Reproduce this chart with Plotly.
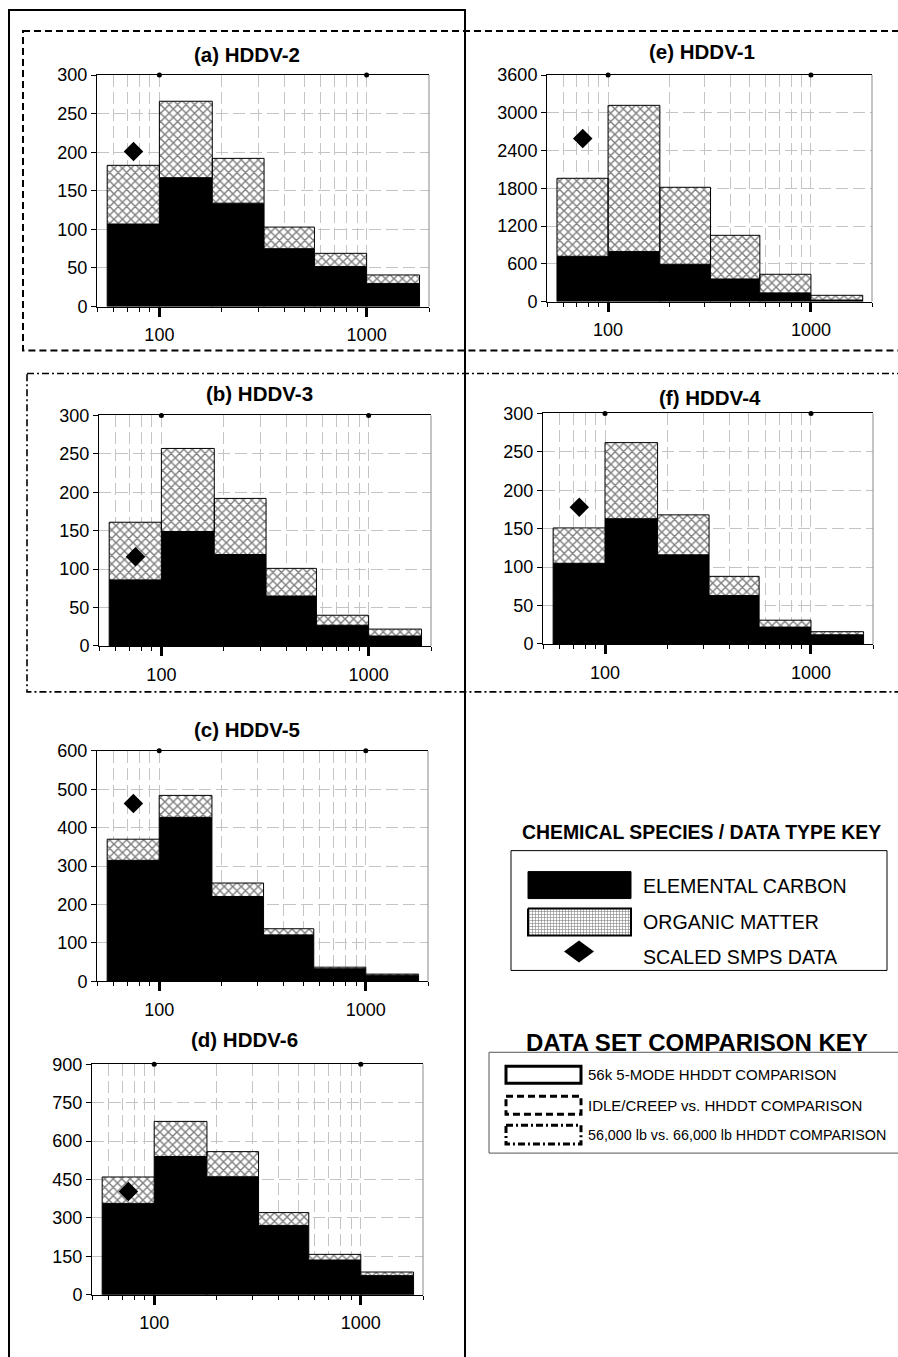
import math
import plotly.graph_objects as go

# ---------------- data ----------------
BIN_EDGES = [56, 100, 180, 320, 560, 1000, 1800]   # particle diameter (nm)
SMPS_DIAMETER = 75
X_TICKS = [100, 1000]
X_MINOR = [50, 60, 70, 80, 90, 200, 300, 400, 500, 600, 700, 800, 900, 2000]

TITLES = ["(a) HDDV-2", "(e) HDDV-1", "(b) HDDV-3", "(f) HDDV-4", "(c) HDDV-5", "(d) HDDV-6"]

EC_A = [107, 167, 134, 75, 52, 30]
OM_A = [76, 99, 58, 28, 17, 11]
EC_E = [720, 794, 593, 360, 138, 25]
OM_E = [1239, 2324, 1223, 693, 296, 75]
EC_B = [86, 149, 119, 65, 27, 13]
OM_B = [75, 108, 73, 36, 13, 9]
EC_F = [105, 163, 116, 63, 22, 12]
OM_F = [46, 99, 52, 25, 9, 4]
EC_C = [315, 427, 221, 121, 33, 16]
OM_C = [55, 57, 35, 16, 4, 3]
EC_D = [357, 540, 461, 271, 136, 75]
OM_D = [103, 137, 98, 50, 22, 14]

EC = [EC_A, EC_E, EC_B, EC_F, EC_C, EC_D]
OM = [OM_A, OM_E, OM_B, OM_F, OM_C, OM_D]
SMPS = [201, 2590, 116, 178, 463, 403]
Y_MAX = [300, 3600, 300, 300, 600, 900]
Y_STEP = [50, 600, 50, 50, 100, 150]

LEGEND1_ITEMS = ["ELEMENTAL CARBON", "ORGANIC MATTER", "SCALED SMPS DATA"]
LEGEND2_ITEMS = ["56k 5-MODE HHDDT COMPARISON", "IDLE/CREEP vs. HHDDT COMPARISON",
                 "56,000 lb vs. 66,000 lb HHDDT COMPARISON"]

# ---------------- layout geometry (pixels) ----------------
W, H = 898, 1357
PLOT_BOX = [(97, 429, 74, 306), (547, 872, 74, 301), (99, 431, 415, 646),
            (543, 873, 413, 644), (97, 428, 751, 982), (92, 423, 1065, 1296)]
TITLE_POS = [(247, 53), (702, 50), (259, 393), (710, 397), (247, 730), (245, 1040)]

FONT = "Liberation Sans, Arial, sans-serif"
GRID = "#c4c4c4"
GDASH = "12px,5px"

# the photographed page shows a small vertical offset/compression; compensate
VSCALE = 0.987
VOFF = 9.0


def px(x):
    return x / W


def py(y):
    return 1 - (y / VSCALE - VOFF) / H


fig = go.Figure()
layout = dict(width=W, height=H, margin=dict(l=0, r=0, t=0, b=0, pad=0),
              paper_bgcolor="white", plot_bgcolor="rgba(0,0,0,0)",
              showlegend=False, font=dict(family=FONT, color="black"))
shapes = []
annotations = []

for i in range(6):
    n = i + 1
    xa = "x" if n == 1 else f"x{n}"
    ya = "y" if n == 1 else f"y{n}"
    x0, x1, y0, y1 = PLOT_BOX[i]
    ec = EC[i]
    top = [e + o for e, o in zip(ec, OM[i])]

    ecx, ecy, omx, omy = [], [], [], []
    for k in range(len(ec)):
        a, b = BIN_EDGES[k], BIN_EDGES[k + 1]
        ecx += [a, a, b, b, a, None]
        ecy += [0, ec[k], ec[k], 0, 0, None]
        omx += [a, a, b, b, a, None]
        omy += [ec[k], top[k], top[k], ec[k], ec[k], None]

    fig.add_trace(go.Scatter(x=ecx, y=ecy, xaxis=xa, yaxis=ya, mode="lines",
                             fill="toself", fillcolor="black",
                             line=dict(color="black", width=1), hoverinfo="skip"))
    fig.add_trace(go.Scatter(x=omx, y=omy, xaxis=xa, yaxis=ya, mode="lines",
                             fill="toself", fillcolor="white",
                             fillpattern=dict(shape="x", size=6, solidity=0.42,
                                              fgcolor="black", bgcolor="white"),
                             line=dict(color="black", width=1), hoverinfo="skip"))
    fig.add_trace(go.Scatter(x=[SMPS_DIAMETER], y=[SMPS[i]], xaxis=xa, yaxis=ya,
                             mode="markers",
                             marker=dict(symbol="diamond", size=15, color="black"),
                             hoverinfo="skip"))
    fig.add_trace(go.Scatter(x=X_TICKS, y=[Y_MAX[i]] * 2, xaxis=xa, yaxis=ya,
                             mode="markers", cliponaxis=False,
                             marker=dict(size=5, color="black"), hoverinfo="skip"))

    layout["xaxis" if n == 1 else f"xaxis{n}"] = dict(
        type="log", range=[math.log10(50), math.log10(2000)],
        domain=[px(x0), px(x1)], anchor=ya,
        showline=True, linecolor="black", linewidth=1, mirror=True,
        ticks="outside", tickvals=X_TICKS, ticktext=[str(v) for v in X_TICKS],
        ticklen=9, tickwidth=3, tickcolor="black", ticklabelstandoff=3,
        tickfont=dict(size=18, family=FONT, color="black"),
        showgrid=True, gridcolor=GRID, gridwidth=1, griddash=GDASH,
        zeroline=False,
        minor=dict(tickvals=X_MINOR, ticks="outside", ticklen=4, tickwidth=1,
                   tickcolor="black", showgrid=True, gridcolor=GRID,
                   gridwidth=1, griddash=GDASH),
    )
    layout["yaxis" if n == 1 else f"yaxis{n}"] = dict(
        range=[0, Y_MAX[i]], domain=[py(y1), py(y0)], anchor=xa,
        tick0=0, dtick=Y_STEP[i],
        showline=True, linecolor="black", linewidth=1,
        ticks="outside", ticklen=5, tickwidth=1, tickcolor="black",
        tickfont=dict(size=18, family=FONT, color="black"),
        showgrid=True, gridcolor=GRID, gridwidth=1, griddash=GDASH,
        zeroline=False,
    )
    # gray right border of plot area
    shapes.append(dict(type="line", xref=f"{xa} domain", yref=f"{ya} domain",
                       x0=1, x1=1, y0=0, y1=1, line=dict(color="#8a8a8a", width=1)))
    annotations.append(dict(text=f"<b>{TITLES[i]}</b>", x=px(TITLE_POS[i][0]),
                            y=py(TITLE_POS[i][1]), xref="paper", yref="paper",
                            xanchor="center", yanchor="middle", showarrow=False,
                            font=dict(size=20.5, family=FONT, color="black")))

# ---------------- frames ----------------
shapes.append(dict(type="rect", xref="paper", yref="paper",
                   x0=px(9), x1=px(465), y0=py(9), y1=py(1420),
                   line=dict(color="black", width=2)))
shapes.append(dict(type="rect", xref="paper", yref="paper",
                   x0=px(23), x1=px(920), y0=py(30), y1=py(350),
                   line=dict(color="black", width=2, dash="7px,4px")))
shapes.append(dict(type="rect", xref="paper", yref="paper",
                   x0=px(27), x1=px(920), y0=py(373), y1=py(692),
                   line=dict(color="black", width=1.6, dash="7px,3px,2px,3px")))

# ---------------- legend 1 ----------------
annotations.append(dict(text="<b>CHEMICAL SPECIES / DATA TYPE KEY</b>", x=px(701), y=py(832),
                        xref="paper", yref="paper", xanchor="center", yanchor="middle",
                        showarrow=False, font=dict(size=19.4, family=FONT, color="black")))
shapes.append(dict(type="rect", xref="paper", yref="paper",
                   x0=px(511), x1=px(887), y0=py(851), y1=py(971),
                   line=dict(color="black", width=1)))
shapes.append(dict(type="rect", xref="paper", yref="paper",
                   x0=px(528), x1=px(631), y0=py(872), y1=py(899),
                   fillcolor="black", line=dict(color="black", width=1)))
dcx, dcy, dw, dh = 579, 952, 15, 11
shapes.append(dict(type="path", xref="paper", yref="paper",
                   path=f"M {px(dcx - dw)},{py(dcy)} L {px(dcx)},{py(dcy - dh)} "
                        f"L {px(dcx + dw)},{py(dcy)} L {px(dcx)},{py(dcy + dh)} Z",
                   fillcolor="black", line=dict(color="black", width=0)))
for t, yy in zip(LEGEND1_ITEMS, [886, 922, 958]):
    annotations.append(dict(text=t, x=px(641), y=py(yy), xref="paper", yref="paper",
                            xanchor="left", yanchor="middle", showarrow=False,
                            font=dict(size=19.6, family=FONT, color="black")))

# overlay axis (page pixel coordinates) for the patterned legend swatch
layout["xaxis7"] = dict(domain=[0, 1], range=[0, W], visible=False, anchor="y7")
layout["yaxis7"] = dict(domain=[0, 1], range=[0, 1], visible=False, anchor="x7")
sx0, sx1, sy0, sy1 = 528, 631, 909, 936
fig.add_trace(go.Scatter(x=[sx0, sx0, sx1, sx1, sx0],
                         y=[py(sy0), py(sy1), py(sy1), py(sy0), py(sy0)],
                         xaxis="x7", yaxis="y7", mode="lines", fill="toself",
                         fillcolor="white",
                         fillpattern=dict(shape="+", size=3, solidity=0.35,
                                          fgcolor="black", bgcolor="white"),
                         line=dict(color="black", width=2), hoverinfo="skip"))

# ---------------- legend 2 ----------------
annotations.append(dict(text="<b>DATA SET COMPARISON KEY</b>", x=px(697), y=py(1043),
                        xref="paper", yref="paper", xanchor="center", yanchor="middle",
                        showarrow=False, font=dict(size=24, family=FONT, color="black")))
shapes.append(dict(type="rect", xref="paper", yref="paper",
                   x0=px(489), x1=px(920), y0=py(1053), y1=py(1154),
                   line=dict(color="#555555", width=1)))
swatch_styles = ["solid", "7px,4px", "7px,3px,2px,3px"]
swatch_y = [(1067, 1084), (1097, 1115), (1126, 1145)]
item_sizes = [15, 15, 14.3]
for t, st, (a, b), fs in zip(LEGEND2_ITEMS, swatch_styles, swatch_y, item_sizes):
    shapes.append(dict(type="rect", xref="paper", yref="paper",
                       x0=px(506), x1=px(581), y0=py(a), y1=py(b),
                       line=dict(color="black", width=3, dash=st)))
    annotations.append(dict(text=t, x=px(586), y=py((a + b) / 2), xref="paper",
                            yref="paper", xanchor="left", yanchor="middle",
                            showarrow=False,
                            font=dict(size=fs, family=FONT, color="black")))

layout["shapes"] = shapes
layout["annotations"] = annotations
fig.update_layout(**layout)
fig.write_html("out.html")
